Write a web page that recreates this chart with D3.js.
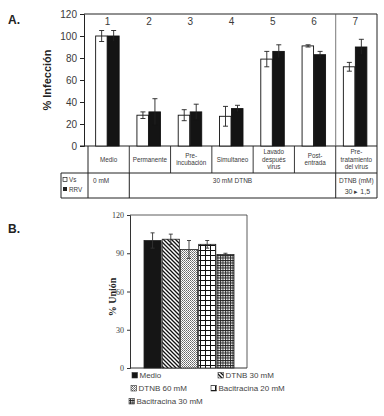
<!DOCTYPE html>
<html><head><meta charset="utf-8">
<script src="https://cdn.jsdelivr.net/npm/d3@7/dist/d3.min.js"></script>
<style>body{margin:0;background:#fff}svg{display:block}</style>
</head><body>
<svg id="c" width="384" height="416"></svg>
<script>
// ---------- Panel A data ----------
const groupsA = ["1","2","3","4","5","6","7"];
const condNames = [["Medio"],["Permanente"],["Pre-","incubación"],["Simultaneo"],["Lavado","después","virus"],["Post-","entrada"],["Pre-","tratamiento","del virus"]];
const seriesA = ["Vs","RRV"];
const vsValues = [100,28,28,27,79,91,72];
const vsErr = [5,3,5,9,7,1,4];
const rrvValues = [100,31,31,34,86,83,90];
const rrvErr = [5,12,7,3,6,3,7];
const yTicksA = [0,20,40,60,80,100,120];
// ---------- Panel B data ----------
const catsB = ["Medio","DTNB 30 mM","DTNB 60 mM","Bacitracina 20 mM","Bacitracina 30 mM"];
const valuesB = [100,101,93,97,89];
const errB = [6,4,7,3,1];
const yTicksB = [0,30,60,90,120];

const svg = d3.select("#c");
const ink = "#222";
const txt = "#3a3a3a";

// ---------- patterns ----------
const defs = svg.append("defs");
function pat(id, w, h, draw){ const p = defs.append("pattern").attr("id",id).attr("patternUnits","userSpaceOnUse").attr("width",w).attr("height",h); p.append("rect").attr("width",w).attr("height",h).attr("fill","#fff"); draw(p); }
pat("pSolid",4,4,p=>p.append("rect").attr("width",4).attr("height",4).attr("fill","#151515"));
pat("pDiag",4,4,p=>{ p.append("path").attr("d","M-1,-1 L5,5 M-1,3 L1,5 M3,-1 L5,1").attr("stroke","#111").attr("stroke-width",1.3); });
pat("pDots",2,2,p=>{ p.append("rect").attr("width",1).attr("height",1).attr("fill","#666"); p.append("rect").attr("x",1).attr("y",1).attr("width",1).attr("height",1).attr("fill","#888"); });
pat("pGrid",5,5,p=>{ p.append("path").attr("d","M0,0.5 H5 M0.5,0 V5").attr("stroke","#111").attr("stroke-width",1); });
pat("pFine",2.5,2.5,p=>{ p.append("path").attr("d","M0,0.5 H2.5 M0.5,0 V2.5").attr("stroke","#222").attr("stroke-width",0.9); });
const fillsB = ["url(#pSolid)","url(#pDiag)","url(#pDots)","url(#pGrid)","url(#pFine)"];

// ================= PANEL A =================
const aLeft = 84, aPlotL = 88, aRight = 377, aTop = 14, aBottom = 146;
const yA = d3.scaleLinear().domain([0,120]).range([aBottom,aTop]);
const x0 = d3.scaleBand().domain(groupsA).range([aPlotL,aRight]);
const x1 = d3.scaleBand().domain(seriesA).range([0,24]);
const gA = svg.append("g");

svg.append("text").attr("x",8).attr("y",24).attr("font-family","Liberation Sans, Arial").attr("font-weight","bold").attr("font-size",12).attr("fill",ink).text("A.");

// y axis
const axA = gA.append("g").attr("transform",`translate(${aLeft},0)`).call(d3.axisLeft(yA).tickValues(yTicksA).tickSize(4).tickPadding(3));
axA.select(".domain").attr("stroke",ink);
axA.selectAll(".tick line").attr("stroke",ink);
axA.selectAll(".tick text").attr("font-family","Liberation Sans, Arial").attr("font-size",10).attr("fill",txt);
// frame
gA.append("line").attr("x1",aLeft).attr("x2",aRight).attr("y1",aTop).attr("y2",aTop).attr("stroke",ink);
gA.append("line").attr("x1",aRight).attr("x2",aRight).attr("y1",aTop).attr("y2",198).attr("stroke",ink);
gA.append("line").attr("x1",aLeft-4).attr("x2",aRight).attr("y1",aBottom).attr("y2",aBottom).attr("stroke",ink);
gA.append("line").attr("x1",x0("7")).attr("x2",x0("7")).attr("y1",aTop).attr("y2",aBottom).attr("stroke","#555").attr("stroke-width",0.8);

// y label
gA.append("text").attr("transform",`translate(51,80) rotate(-90)`).attr("text-anchor","middle").attr("font-family","Liberation Sans, Arial").attr("font-weight","bold").attr("font-size",11).attr("fill",ink).text("% Infección");

// group numbers
gA.selectAll("text.num").data(groupsA).join("text").attr("class","num")
  .attr("x",d=>x0(d)+x0.bandwidth()/2 - 1).attr("y",25).attr("text-anchor","middle")
  .attr("font-family","Liberation Sans, Arial").attr("font-size",10).attr("fill",txt).text(d=>d);

// bars
const dataA = groupsA.map((g,i)=>({g, vals:[{s:"Vs",v:vsValues[i],e:vsErr[i]},{s:"RRV",v:rrvValues[i],e:rrvErr[i]}]}));
const grp = gA.selectAll("g.grp").data(dataA).join("g").attr("class","grp")
  .attr("transform",d=>`translate(${x0(d.g)+x0.bandwidth()/2-13},0)`);
grp.selectAll("rect").data(d=>d.vals).join("rect")
  .attr("x",d=>x1(d.s)).attr("width",x1.bandwidth()-0.5)
  .attr("y",d=>yA(d.v)).attr("height",d=>yA(0)-yA(d.v))
  .attr("fill",d=>d.s==="Vs"?"#fff":"#141414").attr("stroke","#111").attr("stroke-width",0.9);
const eb = grp.selectAll("g.eb").data(d=>d.vals).join("g").attr("class","eb");
eb.append("line").attr("x1",d=>x1(d.s)+x1.bandwidth()/2).attr("x2",d=>x1(d.s)+x1.bandwidth()/2)
  .attr("y1",d=>yA(d.v-d.e)).attr("y2",d=>yA(d.v+d.e)).attr("stroke","#222").attr("stroke-width",0.9);
eb.append("line").attr("x1",d=>x1(d.s)+x1.bandwidth()/2-2.5).attr("x2",d=>x1(d.s)+x1.bandwidth()/2+2.5)
  .attr("y1",d=>yA(d.v+d.e)).attr("y2",d=>yA(d.v+d.e)).attr("stroke","#222").attr("stroke-width",0.9);
eb.append("line").attr("x1",d=>x1(d.s)+x1.bandwidth()/2-2.5).attr("x2",d=>x1(d.s)+x1.bandwidth()/2+2.5)
  .attr("y1",d=>yA(d.v-d.e)).attr("y2",d=>yA(d.v-d.e)).attr("stroke",d=>d.s==="Vs"?"#222":"#141414").attr("stroke-width",0.9);

// table
const r1Top = aBottom, r1Bot = 173, r2Bot = 198;
const tf = "Liberation Sans, Arial";
gA.append("line").attr("x1",aPlotL).attr("x2",aPlotL).attr("y1",r1Top).attr("y2",r2Bot).attr("stroke",ink);
groupsA.forEach((g,i)=>{ if(i>0) gA.append("line").attr("x1",x0(g)).attr("x2",x0(g)).attr("y1",r1Top).attr("y2",r1Bot).attr("stroke",ink).attr("stroke-width",0.9); });
gA.append("line").attr("x1",61).attr("x2",aRight).attr("y1",r1Bot).attr("y2",r1Bot).attr("stroke",ink);
gA.append("line").attr("x1",61).attr("x2",aRight).attr("y1",r2Bot).attr("y2",r2Bot).attr("stroke",ink);
gA.append("line").attr("x1",61).attr("x2",61).attr("y1",r1Bot).attr("y2",r2Bot).attr("stroke",ink);
[x0("2"),x0("7")].forEach(x=>gA.append("line").attr("x1",x).attr("x2",x).attr("y1",r1Bot).attr("y2",r2Bot).attr("stroke",ink));
condNames.forEach((lines,i)=>{
  const cx = x0(groupsA[i])+x0.bandwidth()/2;
  const lh = 7.5; const y0 = (r1Top+r1Bot)/2 - (lines.length-1)*lh/2 + 2.2;
  lines.forEach((l,j)=>gA.append("text").attr("x",cx).attr("y",y0+j*lh).attr("text-anchor","middle").attr("font-family",tf).attr("font-size",6.3).attr("fill",txt).text(l));
});
gA.append("text").attr("x",93).attr("y",183).attr("font-family",tf).attr("font-size",6.5).attr("fill",txt).text("0 mM");
gA.append("text").attr("x",(x0("2")+x0("7"))/2).attr("y",183).attr("text-anchor","middle").attr("font-family",tf).attr("font-size",6.5).attr("fill",txt).text("30 mM DTNB");
gA.append("text").attr("x",(x0("7")+aRight)/2).attr("y",183).attr("text-anchor","middle").attr("font-family",tf).attr("font-size",6.5).attr("fill",txt).text("DTNB (mM)");
gA.append("text").attr("x",(x0("7")+aRight)/2+1).attr("y",194).attr("text-anchor","middle").attr("font-family",tf).attr("font-size",7).attr("fill",txt).text("30 \u25B8 1,5");
// legend A
gA.append("rect").attr("x",63).attr("y",177.5).attr("width",4).attr("height",4).attr("fill","#fff").attr("stroke","#222").attr("stroke-width",0.7);
gA.append("text").attr("x",69).attr("y",182).attr("font-family",tf).attr("font-size",6.3).attr("fill",txt).text(seriesA[0]);
gA.append("rect").attr("x",63).attr("y",187).attr("width",4).attr("height",4).attr("fill","#222");
gA.append("text").attr("x",69).attr("y",191.5).attr("font-family",tf).attr("font-size",6.3).attr("fill",txt).text(seriesA[1]);

// ================= PANEL B =================
const bL = 130, bR = 247, bT = 215, bB = 368;
const yB = d3.scaleLinear().domain([0,120]).range([bB,bT]);
const xB = d3.scaleBand().domain(catsB).range([144,234]).paddingInner(0.06);
const gB = svg.append("g");
svg.append("text").attr("x",8).attr("y",233).attr("font-family","Liberation Sans, Arial").attr("font-weight","bold").attr("font-size",12).attr("fill",ink).text("B.");

const axB = gB.append("g").attr("transform",`translate(${bL},0)`).call(d3.axisLeft(yB).tickValues(yTicksB).tickSize(3).tickPadding(3));
axB.select(".domain").attr("stroke","#333");
axB.selectAll(".tick line").attr("stroke","#333");
axB.selectAll(".tick text").attr("font-family","Liberation Serif, Times New Roman").attr("font-size",8).attr("fill",txt);
gB.append("line").attr("x1",bL).attr("x2",bR).attr("y1",bT).attr("y2",bT).attr("stroke","#333").attr("stroke-width",0.8);
gB.append("line").attr("x1",bR).attr("x2",bR).attr("y1",bT).attr("y2",bB).attr("stroke","#333").attr("stroke-width",0.8);
gB.append("line").attr("x1",bL).attr("x2",bR).attr("y1",bB).attr("y2",bB).attr("stroke","#333").attr("stroke-width",1);
gB.append("text").attr("transform",`translate(116,297) rotate(-90)`).attr("text-anchor","middle").attr("font-family","Liberation Serif, Times New Roman").attr("font-weight","bold").attr("font-size",10).attr("fill",ink).text("% Unión");

const dataB = catsB.map((c,i)=>({c,v:valuesB[i],e:errB[i],f:fillsB[i]}));
gB.selectAll("rect.bar").data(dataB).join("rect").attr("class","bar")
  .attr("x",d=>xB(d.c)).attr("width",xB.bandwidth()).attr("y",d=>yB(d.v)).attr("height",d=>yB(0)-yB(d.v))
  .attr("fill",d=>d.f).attr("stroke","#222").attr("stroke-width",0.8);
const ebB = gB.selectAll("g.ebb").data(dataB).join("g").attr("class","ebb");
ebB.append("line").attr("x1",d=>xB(d.c)+xB.bandwidth()/2).attr("x2",d=>xB(d.c)+xB.bandwidth()/2)
  .attr("y1",d=>yB(d.v-d.e)).attr("y2",d=>yB(d.v+d.e)).attr("stroke","#333").attr("stroke-width",0.9);
ebB.append("line").attr("x1",d=>xB(d.c)+xB.bandwidth()/2-2).attr("x2",d=>xB(d.c)+xB.bandwidth()/2+2)
  .attr("y1",d=>yB(d.v+d.e)).attr("y2",d=>yB(d.v+d.e)).attr("stroke","#333").attr("stroke-width",0.9);
ebB.append("line").attr("x1",d=>xB(d.c)+xB.bandwidth()/2-2).attr("x2",d=>xB(d.c)+xB.bandwidth()/2+2)
  .attr("y1",d=>yB(d.v-d.e)).attr("y2",d=>yB(d.v-d.e)).attr("stroke","#333").attr("stroke-width",0.9);

// legend B
const legPos = [[132,378],[218,378],[131,391],[211,391],[129,404]];
dataB.forEach((d,i)=>{
  const [lx,ly] = legPos[i];
  gB.append("rect").attr("x",lx).attr("y",ly-5.5).attr("width",5.5).attr("height",5.5).attr("fill",d.f).attr("stroke","#333").attr("stroke-width",0.6);
  gB.append("text").attr("x",lx+7.5).attr("y",ly).attr("font-family",tf).attr("font-size",8).attr("fill","#444").text(d.c);
});
</script>
</body></html>
